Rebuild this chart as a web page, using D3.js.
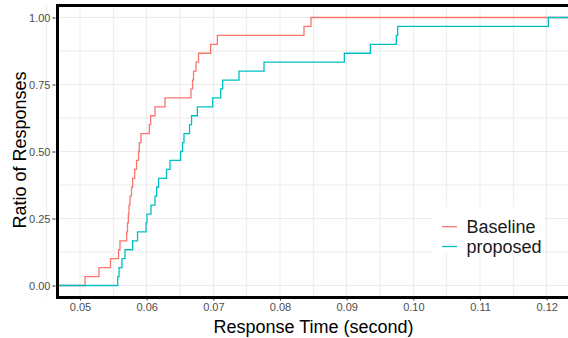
<!DOCTYPE html>
<html>
<head>
<meta charset="utf-8">
<script src="https://cdn.jsdelivr.net/npm/d3@7"></script>
<style>
html,body{margin:0;padding:0;background:#fff;}
svg{display:block;font-family:"Liberation Sans",Arial,sans-serif;}
</style>
</head>
<body>
<svg id="chart" width="568" height="338"></svg>
<script>
// ---- data (response times in seconds, one per response) ----
const seriesNames = ["Baseline", "proposed"];
const seriesColors = ["#F8766D", "#00BFC4"];
const baselineTimes = [
  0.05075, 0.05285, 0.05458, 0.05578, 0.05600, 0.05700, 0.05713, 0.05725,
  0.05735, 0.05750, 0.05773, 0.05790, 0.05820, 0.05848, 0.05878, 0.05890,
  0.05915, 0.06040, 0.06060, 0.06125, 0.06275, 0.06665, 0.06688, 0.06703,
  0.06740, 0.06778, 0.06960, 0.07060, 0.08360, 0.08465
];
const proposedTimes = [
  0.05566, 0.05585, 0.05630, 0.05675, 0.05790, 0.05863, 0.05990, 0.06005,
  0.06065, 0.06125, 0.06150, 0.06178, 0.06298, 0.06350, 0.06508, 0.06538,
  0.06560, 0.06643, 0.06673, 0.06760, 0.06990, 0.07110, 0.07140, 0.07385,
  0.07760, 0.08965, 0.09355, 0.09745, 0.09765, 0.12025
];
const xTicks = [0.05, 0.06, 0.07, 0.08, 0.09, 0.10, 0.11, 0.12];
const xMinor = [0.045, 0.055, 0.065, 0.075, 0.085, 0.095, 0.105, 0.115];
const yTicks = [0, 0.25, 0.5, 0.75, 1];
const yMinor = [0.125, 0.375, 0.625, 0.875];
const xTitle = "Response Time (second)";
const yTitle = "Ratio of Responses";

// ---- layout ----
const panel = {left: 57.5, right: 570, top: 5.5, bottom: 297.5};
const svg = d3.select("#chart");

const x = d3.scaleLinear().domain([0.046625, 0.05]).range([panel.left, 80]);
x.domain([0.046625, 0.046625 + (570 - panel.left) / 6666.7]).range([panel.left, 570]);
const y = d3.scaleLinear().domain([0, 1]).range([285.5, 17.5]);

// grid
const grid = svg.append("g");
grid.selectAll(".vmin").data(xMinor.concat(xTicks)).join("line")
  .attr("x1", d => x(d)).attr("x2", d => x(d))
  .attr("y1", panel.top).attr("y2", panel.bottom)
  .attr("stroke", "#ebebeb").attr("stroke-width", 1);
grid.selectAll(".hmin").data(yMinor.concat(yTicks)).join("line")
  .attr("x1", panel.left).attr("x2", panel.right)
  .attr("y1", d => y(d)).attr("y2", d => y(d))
  .attr("stroke", "#ebebeb").attr("stroke-width", 1);

// ecdf step lines
function ecdfPoints(times) {
  const s = times.slice().sort(d3.ascending);
  const n = s.length;
  const pts = [[x.domain()[0] - 0.01, 0]];
  s.forEach((t, i) => pts.push([t, (i + 1) / n]));
  pts.push([x.domain()[1] + 0.01, 1]);
  return pts;
}
const line = d3.line().x(d => x(d[0])).y(d => y(d[1])).curve(d3.curveStepAfter);
const clip = svg.append("clipPath").attr("id", "clp").append("rect")
  .attr("x", panel.left).attr("y", panel.top)
  .attr("width", panel.right - panel.left).attr("height", panel.bottom - panel.top);
const seriesData = [baselineTimes, proposedTimes];
svg.append("g").attr("clip-path", "url(#clp)")
  .selectAll("path").data(seriesData).join("path")
  .attr("d", d => line(ecdfPoints(d)))
  .attr("fill", "none")
  .attr("stroke", (d, i) => seriesColors[i])
  .attr("stroke-width", 1.3);

// axes
const yAxis = d3.axisLeft(y).tickValues(yTicks).tickFormat(d3.format(".2f")).tickSize(3).tickPadding(2);
const yg = svg.append("g").attr("transform", `translate(${panel.left - 2},0)`).call(yAxis);
yg.select(".domain").remove();
yg.selectAll(".tick line").attr("stroke", "#333");
yg.selectAll(".tick text").attr("fill", "#4d4d4d").style("font-size", "11px")
  .style("font-family", "Liberation Sans, Arial, sans-serif");

const xAxis = d3.axisBottom(x).tickValues(xTicks).tickFormat(d3.format(".2f")).tickSize(3).tickPadding(3);
const xg = svg.append("g").attr("transform", `translate(0,${panel.bottom})`).call(xAxis);
xg.select(".domain").remove();
xg.selectAll(".tick line").attr("stroke", "#333");
xg.selectAll(".tick text").attr("fill", "#4d4d4d").style("font-size", "11px")
  .style("font-family", "Liberation Sans, Arial, sans-serif");

// legend
const lg = svg.append("g");
lg.append("rect").attr("x", 433).attr("y", 207).attr("width", 110).attr("height", 46).attr("fill", "#fff");
seriesNames.forEach((name, i) => {
  const cy = 226.7 + i * 19.8;
  lg.append("line").attr("x1", 442).attr("x2", 457).attr("y1", cy).attr("y2", cy)
    .attr("stroke", seriesColors[i]).attr("stroke-width", 1.3);
  lg.append("text").attr("x", 466.5).attr("y", cy + 6.2).text(name)
    .attr("fill", "#1a1a1a").style("font-size", "18px");
});

// panel border
svg.append("rect").attr("x", panel.left).attr("y", panel.top)
  .attr("width", 600 - panel.left).attr("height", panel.bottom - panel.top)
  .attr("fill", "none").attr("stroke", "#000").attr("stroke-width", 3);

// titles
svg.append("text").attr("x", 313.5).attr("y", 332.5).attr("text-anchor", "middle")
  .style("font-size", "18px").attr("fill", "#000").text(xTitle);
svg.append("text").attr("transform", "translate(25.5,150) rotate(-90)").attr("text-anchor", "middle")
  .style("font-size", "18px").attr("fill", "#000").text(yTitle);
</script>
</body>
</html>
